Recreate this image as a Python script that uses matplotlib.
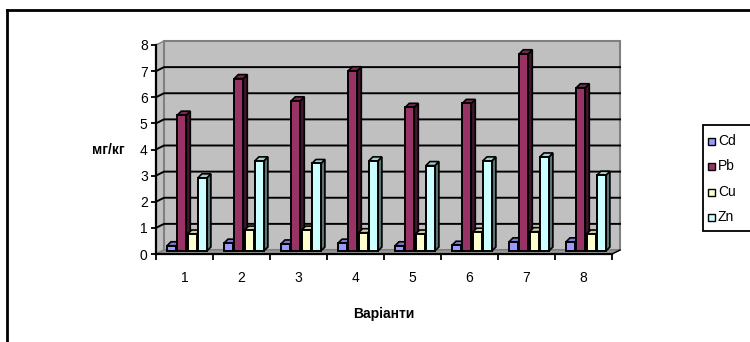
import numpy as np
import matplotlib
matplotlib.use("Agg")
import matplotlib.pyplot as plt
from matplotlib.patches import Polygon, Rectangle
from matplotlib.lines import Line2D
from matplotlib.colors import to_rgb

plt.rcParams['font.family'] = ['Liberation Sans', 'DejaVu Sans']

# --- data -------------------------------------------------------------
categories = ['1', '2', '3', '4', '5', '6', '7', '8']
series_names = ['Cd', 'Pb', 'Cu', 'Zn']
cd = [0.2, 0.3, 0.27, 0.3, 0.2, 0.22, 0.35, 0.35]
pb = [5.2, 6.6, 5.75, 6.9, 5.5, 5.65, 7.55, 6.25]
cu = [0.65, 0.8, 0.8, 0.7, 0.65, 0.72, 0.74, 0.65]
zn = [2.8, 3.45, 3.35, 3.45, 3.27, 3.45, 3.6, 2.9]
y_ticks = [0, 1, 2, 3, 4, 5, 6, 7, 8]
x_title = 'Варіанти'
y_title = 'мг/кг'

series_values = [cd, pb, cu, zn]
series_colors = ['#9999FF', '#993366', '#FFFFCC', '#CCFFFF']

W, H = 750, 342
fig = plt.figure(figsize=(W / 100, H / 100), dpi=100)
fig.patch.set_facecolor('white')

# front plane of the plot box in pixels
left_px, right_px, top_px, bottom_px = 156, 612, 45, 254
ax = fig.add_axes([left_px / W, 1 - bottom_px / H,
                   (right_px - left_px) / W, (bottom_px - top_px) / H])
n = len(categories)
ax.set_xlim(0, n)
ax.set_ylim(0, 8)
ax.set_facecolor('none')

px_x = (right_px - left_px) / n      # pixels per category
px_y = (bottom_px - top_px) / 8.0    # pixels per unit

# depth of the box (oblique projection)
wdx, wdy = 8 / px_x, 4 / px_y

wall_col = '#C0C0C0'
floor_col = '#9A9A9A'
edge_grey = '#808080'

# left side wall
ax.add_patch(Polygon([(0, 0), (0, 8), (wdx, 8 + wdy), (wdx, wdy)],
                     closed=True, fc=wall_col, ec=edge_grey, lw=1,
                     clip_on=False, zorder=1))
# back wall
ax.add_patch(Polygon([(wdx, wdy), (wdx, 8 + wdy), (n + wdx, 8 + wdy), (n + wdx, wdy)],
                     closed=True, fc=wall_col, ec=edge_grey, lw=1.5,
                     clip_on=False, zorder=1))
# gridlines on the walls
for v in y_ticks[1:-1]:
    ax.add_line(Line2D([0, wdx, n + wdx], [v, v + wdy, v + wdy],
                       color='black', lw=1.4, clip_on=False, zorder=2))
# floor
ax.add_patch(Polygon([(0, 0), (n, 0), (n + wdx, wdy), (wdx, wdy)],
                     closed=True, fc=floor_col, ec=edge_grey, lw=1,
                     clip_on=False, zorder=2))


def shade(c, f):
    r, g, b = to_rgb(c)
    return (r * f, g * f, b * f)


# bar geometry (data units)
bar_w = 9 / px_x
bar_step = 10.3 / px_x
bar_off = 10 / px_x
front_dx, front_dy = 1.0 / px_x, 3.0 / px_y
deep_dx, deep_dy = 4.0 / px_x, 4.0 / px_y

z = 3
for i in range(n):
    for s, vals in enumerate(series_values):
        v = vals[i]
        c = series_colors[s]
        x0 = i + bar_off + s * bar_step + front_dx
        x1 = x0 + bar_w
        y0 = front_dy
        y1 = v + front_dy
        # right side face
        ax.add_patch(Polygon([(x1, y0), (x1, y1), (x1 + deep_dx, y1 + deep_dy),
                              (x1 + deep_dx, y0 + deep_dy)], closed=True,
                             fc=shade(c, 0.45), ec='black', lw=1.2,
                             clip_on=False, zorder=z))
        # top face
        ax.add_patch(Polygon([(x0, y1), (x1, y1), (x1 + deep_dx, y1 + deep_dy),
                              (x0 + deep_dx, y1 + deep_dy)], closed=True,
                             fc=shade(c, 0.8), ec='black', lw=1.2,
                             clip_on=False, zorder=z))
        # front face
        ax.add_patch(Polygon([(x0, y0), (x1, y0), (x1, y1), (x0, y1)],
                             closed=True, fc=c, ec='black', lw=1.4,
                             clip_on=False, zorder=z))
        z += 1

# floor right edge
ax.add_line(Line2D([n, n + wdx], [0, wdy], color='black', lw=1,
                   clip_on=False, zorder=z + 1))

# axes
for sp in ['top', 'right']:
    ax.spines[sp].set_visible(False)
for sp in ['left', 'bottom']:
    ax.spines[sp].set_linewidth(1.6)
    ax.spines[sp].set_zorder(z + 2)
ax.set_yticks(y_ticks)
ax.set_yticklabels([str(t) for t in y_ticks], fontsize=10)
ax.tick_params(axis='y', direction='out', length=3.5, width=1.3, pad=2.5)

ax.set_xticks(np.arange(0, n + 1))
ax.set_xticklabels([''] * (n + 1))
ax.set_xticks(np.arange(n) + 0.5, minor=True)
ax.set_xticklabels(categories, minor=True, fontsize=10)
ax.tick_params(axis='x', which='major', direction='out', length=4, width=1.3)
ax.tick_params(axis='x', which='minor', length=0, pad=12)

ax.set_xlabel(x_title, fontsize=10, fontweight='bold', labelpad=16)
fig.text(125 / W, 1 - 150 / H, y_title, ha='right', va='center',
         fontsize=10, fontweight='bold')

# legend (box runs past the right edge)
lg_left, lg_top, lg_bot = 703, 125, 231
fig.patches.append(Rectangle((lg_left / W, 1 - lg_bot / H), (W + 60 - lg_left) / W,
                             (lg_bot - lg_top) / H, transform=fig.transFigure,
                             fc='white', ec='black', lw=1.3, clip_on=False))
entry_y = [141, 166, 192, 217]
for name, col, yy in zip(series_names, series_colors, entry_y):
    fig.patches.append(Rectangle((708 / W, 1 - (yy + 3.5) / H), 7 / W, 7 / H,
                                 transform=fig.transFigure, fc=col, ec='black',
                                 lw=1))
    fig.text(718 / W, 1 - yy / H, name, ha='left', va='center', fontsize=10)

# outer chart frame (top and left edges visible)
fig.add_artist(Line2D([7 / W, 1.05], [1 - 10 / H, 1 - 10 / H],
                      transform=fig.transFigure, color='black', lw=2))
fig.add_artist(Line2D([7 / W, 7 / W], [1 - 10 / H, -0.05],
                      transform=fig.transFigure, color='black', lw=2))

fig.savefig('out.png', dpi=100, facecolor='white')
